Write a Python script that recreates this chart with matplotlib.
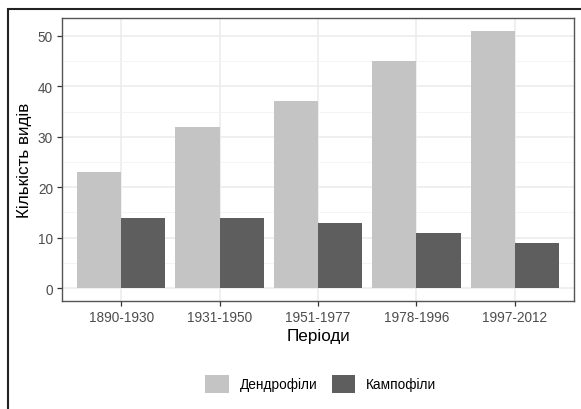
import numpy as np
import matplotlib
matplotlib.use("Agg")
import matplotlib.pyplot as plt
from matplotlib.patches import Rectangle, Patch

plt.rcParams['font.family'] = ['Liberation Sans', 'DejaVu Sans']

# дані
periods = ['1890-1930', '1931-1950', '1951-1977', '1978-1996', '1997-2012']
dendro = [23, 32, 37, 45, 51]
campo = [14, 14, 13, 11, 9]
groups = ['Дендрофіли', 'Кампофіли']
colors = ['#c4c4c4', '#5e5e5e']

W, H = 581, 410
fig = plt.figure(figsize=(W / 100, H / 100), dpi=100)

# панель
x0, y0, x1, y1 = 62, 19, 574, 302
ax = fig.add_axes([x0 / W, 1 - y1 / H, (x1 - x0) / W, (y1 - y0) / H])

x = np.arange(1, len(periods) + 1)
bw = 0.45
ax.bar(x - bw / 2, dendro, width=bw, color=colors[0], zorder=2)
ax.bar(x + bw / 2, campo, width=bw, color=colors[1], zorder=2)

ax.set_xlim(0.4, 5.6)
ax.set_ylim(-2.55, 53.55)
ax.set_xticks(x)
ax.set_xticklabels(periods)
ax.set_yticks([0, 10, 20, 30, 40, 50])
ax.set_yticks([5, 15, 25, 35, 45], minor=True)
ax.grid(True, which='major', color='#ebebeb', lw=1.1, zorder=0)
ax.grid(True, which='minor', axis='y', color='#f2f2f2', lw=0.6, zorder=0)
ax.set_axisbelow(True)
for s in ax.spines.values():
    s.set_color('#555555')
    s.set_linewidth(1.0)
ax.tick_params(axis='both', which='major', colors='#333333', labelcolor='#4d4d4d',
               labelsize=9.8, length=3.5, width=0.9, pad=3)
ax.tick_params(axis='y', which='minor', length=0)
ax.set_xlabel('Періоди', fontsize=12.3, color='black', labelpad=3)
ax.set_ylabel('Кількість видів', fontsize=12.3, color='black', labelpad=4)

# легенда
handles = [Patch(facecolor=c, edgecolor='none') for c in colors]
fig.legend(handles, groups, loc='center', bbox_to_anchor=(321 / W, 1 - 385 / H),
           ncol=2, frameon=False, fontsize=9.8, handlelength=1.75, handleheight=1.75,
           columnspacing=1.0, handletextpad=0.8)

# зовнішня рамка
fig.patches.append(Rectangle((8 / W, -0.1), 1.2, 1 - 10 / H + 0.1,
                             transform=fig.transFigure, fill=False,
                             edgecolor='#222222', lw=1.5))

fig.savefig('out.png', dpi=100)
